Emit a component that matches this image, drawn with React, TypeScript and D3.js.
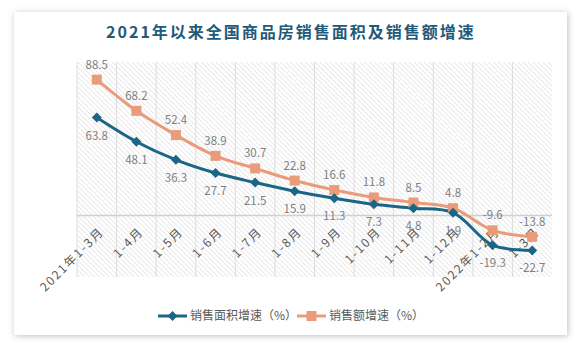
import React from "react";
import * as d3 from "d3";

const categories = ["2021年1-3月", "1-4月", "1-5月", "1-6月", "1-7月", "1-8月", "1-9月", "1-10月", "1-11月", "1-12月", "2022年1-2月", "1-3月"];
const areaGrowth = [63.8, 48.1, 36.3, 27.7, 21.5, 15.9, 11.3, 7.3, 4.8, 1.9, -19.3, -22.7];
const salesGrowth = [88.5, 68.2, 52.4, 38.9, 30.7, 22.8, 16.6, 11.8, 8.5, 4.8, -9.6, -13.8];
const seriesNames = ["销售面积增速（%）", "销售额增速（%）"];
const title = "2021年以来全国商品房销售面积及销售额增速";

const W = 582, H = 348;
const BLUE = "#1b6586";
const ORANGE = "#e99b7a";
const FONT = "'Noto Sans CJK SC', 'Noto Sans', sans-serif";
const DIAMOND = "M0,-5L5,0L0,5L-5,0Z";

export default function App() {
  const left = 77, right = 552, top = 62, bottom = 277;
  const x = d3.scaleBand<string>().domain(categories).range([left, right]);
  const y = d3.scaleLinear().domain([-40, 100]).range([bottom, top]);
  const cx = (i: number) => (x(categories[i]) as number) + x.bandwidth() / 2;
  const line = d3.line<number>().x((_, i) => cx(i)).y((d) => y(d)).curve(d3.curveCatmullRom.alpha(0.5));
  const y0 = y(0);

  return (
    <svg width={W} height={H} style={{ position: "absolute", left: 0, top: 0 }} fontFamily={FONT}>
      <defs>
        <pattern id="hatch" width="3.5" height="3.5" patternUnits="userSpaceOnUse" patternTransform="rotate(-45)">
          <line x1="0.5" y1="0" x2="0.5" y2="3.5" stroke="#e2e2e2" strokeWidth="0.8" />
        </pattern>
        <filter id="sh" x="-10%" y="-10%" width="120%" height="120%">
          <feDropShadow dx="1" dy="1" stdDeviation="3" floodColor="#000" floodOpacity="0.25" />
        </filter>
      </defs>
      <rect x={0} y={0} width={W} height={H} fill="#fff" />
      <rect x={14} y={12} width={553} height={323} fill="#fff" filter="url(#sh)" />
      <text x={291} y={38} textAnchor="middle" fontSize={16} fontWeight="bold" fill="#1f5a78" letterSpacing={2}>{title}</text>

      <rect x={left} y={top} width={right - left} height={bottom - top} fill="url(#hatch)" />
      {categories.map((c, i) => (
        <line key={"g" + i} x1={x(c)} x2={x(c)} y1={top} y2={bottom} stroke="#dcdcdc" strokeWidth={1} />
      ))}
      <line x1={left} x2={right} y1={y0} y2={y0} stroke="#d0d0d0" strokeWidth={1.5} />

      {categories.map((c, i) => (
        <text key={"c" + i} transform={`translate(${cx(i) + 5},${y0 + 14}) rotate(-45)`} textAnchor="end" dy="0.35em" fontSize={12} letterSpacing={1.8} fill="#595959">{c}</text>
      ))}

      <path d={line(salesGrowth) as string} fill="none" stroke={ORANGE} strokeWidth={3} />
      <path d={line(areaGrowth) as string} fill="none" stroke={BLUE} strokeWidth={3} />
      {salesGrowth.map((v, i) => (
        <rect key={"s" + i} x={cx(i) - 5} y={y(v) - 5} width={10} height={10} fill={ORANGE} />
      ))}
      {areaGrowth.map((v, i) => (
        <path key={"a" + i} d={DIAMOND} transform={`translate(${cx(i)},${y(v)})`} fill={BLUE} />
      ))}
      {salesGrowth.map((v, i) => (
        <text key={"sl" + i} x={cx(i)} y={y(v) - 11} textAnchor="middle" fontSize={11.5} fill="#7d7f85">{v.toFixed(1)}</text>
      ))}
      {areaGrowth.map((v, i) => (
        <text key={"al" + i} x={cx(i)} y={y(v) + 22} textAnchor="middle" fontSize={11.5} fill="#7d7f85">{v.toFixed(1)}</text>
      ))}

      <g transform="translate(158,316)">
        <line x1={0} x2={29} y1={0} y2={0} stroke={BLUE} strokeWidth={3} />
        <path d={DIAMOND} transform="translate(14.5,0)" fill={BLUE} />
        <text x={32} y={0} dy="0.35em" fontSize={12} fill="#595959">{seriesNames[0]}</text>
      </g>
      <g transform="translate(297,316)">
        <line x1={0} x2={29} y1={0} y2={0} stroke={ORANGE} strokeWidth={3} />
        <rect x={9.5} y={-5} width={10} height={10} fill={ORANGE} />
        <text x={32} y={0} dy="0.35em" fontSize={12} fill="#595959">{seriesNames[1]}</text>
      </g>
    </svg>
  );
}
